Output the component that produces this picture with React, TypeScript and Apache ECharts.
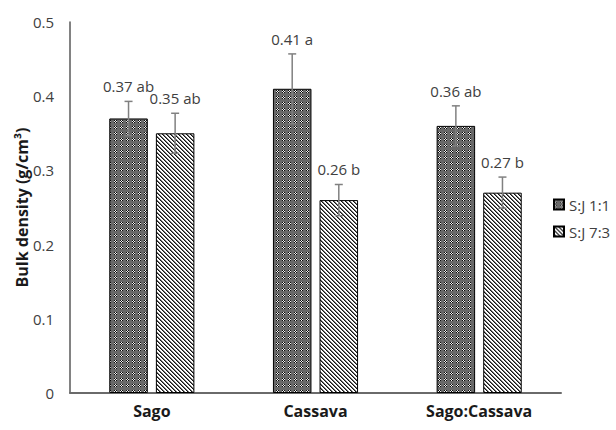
import React, { useEffect, useRef } from 'react';
import * as echarts from 'echarts';

const categories = ['Sago', 'Cassava', 'Sago:Cassava'];
const seriesNames = ['S:J 1:1', 'S:J 7:3'];
const valuesA = [0.37, 0.41, 0.36];
const valuesB = [0.35, 0.26, 0.27];
const errorsA = [0.023, 0.047, 0.027];
const errorsB = [0.027, 0.021, 0.021];
const lettersA = ['ab', 'a', 'ab'];
const lettersB = ['ab', 'b', 'b'];
const yMin = 0;
const yMax = 0.5;
const yStep = 0.1;

const CAT_GAP = 0.48;
const BAR_GAP = 0.21;
const FONT = '"Open Sans", "Noto Sans", sans-serif';

function makeTile(size: number, fn: (x: number, y: number) => number[]): string {
  const c = document.createElement('canvas');
  c.width = size;
  c.height = size;
  const ctx = c.getContext('2d')!;
  const img = ctx.createImageData(size, size);
  for (let y = 0; y < size; y++) {
    for (let x = 0; x < size; x++) {
      const [r, g, b] = fn(x, y);
      const i = (y * size + x) * 4;
      img.data[i] = r;
      img.data[i + 1] = g;
      img.data[i + 2] = b;
      img.data[i + 3] = 255;
    }
  }
  ctx.putImageData(img, 0, 0);
  return c.toDataURL();
}

export default function App() {
  const ref = useRef<HTMLDivElement>(null);
  useEffect(() => {
    if (!ref.current) return;
    const chart = echarts.init(ref.current, undefined, { renderer: 'svg' });

    const tileA = makeTile(6, (x, y) => {
      if (x < 3 && y < 3) {
        return (x + y) % 2 === 0 ? [10, 10, 10] : [240, 240, 240];
      }
      return [105, 105, 105];
    });
    const tileB = makeTile(4, (x, y) => {
      const d = (((x - y) % 4) + 4) % 4;
      if (d === 0) return [20, 20, 20];
      if (d === 1) return [115, 115, 115];
      return [255, 255, 255];
    });
    const patA: any = { image: tileA, repeat: 'repeat', imageWidth: 6, imageHeight: 6 };
    const patB: any = { image: tileB, repeat: 'repeat', imageWidth: 4, imageHeight: 4 };

    const errData: number[][] = [];
    const labels: string[] = [];
    categories.forEach((_, i) => {
      errData.push([i, valuesA[i], errorsA[i], 0]);
      labels.push(valuesA[i].toFixed(2) + ' ' + lettersA[i]);
    });
    categories.forEach((_, i) => {
      errData.push([i, valuesB[i], errorsB[i], 1]);
      labels.push(valuesB[i].toFixed(2) + ' ' + lettersB[i]);
    });

    chart.setOption({
      animation: false,
      backgroundColor: '#ffffff',
      grid: { left: 70, right: 55, top: 22, bottom: 37, containLabel: false },
      legend: {
        data: seriesNames,
        orient: 'vertical',
        left: 548,
        top: 192,
        itemWidth: 10,
        itemHeight: 10,
        itemGap: 12,
        icon: 'rect',
        textStyle: { fontSize: 15, color: '#404040', fontFamily: FONT },
      },
      xAxis: {
        type: 'category',
        data: categories,
        axisLine: { lineStyle: { color: '#6a6a6a', width: 2 } },
        axisTick: { show: false },
        axisLabel: {
          fontSize: 16,
          fontWeight: 'bold',
          color: '#1a1a1a',
          fontFamily: FONT,
          margin: 10,
        },
      },
      yAxis: {
        type: 'value',
        min: yMin,
        max: yMax,
        interval: yStep,
        name: 'Bulk density (g/cm³)',
        nameLocation: 'middle',
        nameRotate: 90,
        nameGap: 40,
        nameMoveOverlap: false,
        nameTextStyle: { fontSize: 16, fontWeight: 'bold', color: '#1a1a1a', fontFamily: FONT },
        axisLine: { show: true, lineStyle: { color: '#595959', width: 1.5 } },
        axisTick: { show: false },
        splitLine: { show: false },
        axisLabel: { fontSize: 15, color: '#404040', fontFamily: FONT, margin: 16 },
      },
      series: [
        {
          name: seriesNames[0],
          type: 'bar',
          data: valuesA,
          barCategoryGap: (CAT_GAP * 100) + '%',
          barGap: (BAR_GAP * 100) + '%',
          itemStyle: { color: patA, borderColor: '#000', borderWidth: 1 },
        },
        {
          name: seriesNames[1],
          type: 'bar',
          data: valuesB,
          barCategoryGap: (CAT_GAP * 100) + '%',
          barGap: (BAR_GAP * 100) + '%',
          itemStyle: { color: patB, borderColor: '#000', borderWidth: 1 },
        },
        {
          name: 'err',
          type: 'custom',
          z: 10,
          data: errData,
          encode: { x: 0, y: 1 },
          renderItem: (params: any, api: any) => {
            const cat = api.value(0);
            const v = api.value(1);
            const e = api.value(2);
            const s = api.value(3);
            const band = api.size([1, 0])[0];
            const area = band * (1 - CAT_GAP);
            const bw = area / (2 + BAR_GAP);
            const offset = -area / 2 + s * bw * (1 + BAR_GAP) + bw / 2;
            const top = api.coord([cat, v + e]);
            const bot = api.coord([cat, v - e]);
            const x = top[0] + offset;
            const cap = 4;
            const ls = { stroke: '#808080', lineWidth: 1.5 };
            return {
              type: 'group',
              children: [
                { type: 'line', shape: { x1: x, y1: top[1], x2: x, y2: bot[1] }, style: ls },
                { type: 'line', shape: { x1: x - cap, y1: top[1], x2: x + cap, y2: top[1] }, style: ls },
                { type: 'line', shape: { x1: x - cap, y1: bot[1], x2: x + cap, y2: bot[1] }, style: ls },
                {
                  type: 'text',
                  style: {
                    text: labels[params.dataIndex],
                    x: x,
                    y: top[1] - 15,
                    align: 'center',
                    verticalAlign: 'middle',
                    fontSize: 15,
                    fontFamily: FONT,
                    fill: '#404040',
                  },
                },
              ],
            };
          },
        },
      ],
    });
    return () => chart.dispose();
  }, []);
  return (
    <div
      ref={ref}
      style={{ position: 'absolute', left: 0, top: 0, width: 616, height: 430, background: '#fff' }}
    />
  );
}
